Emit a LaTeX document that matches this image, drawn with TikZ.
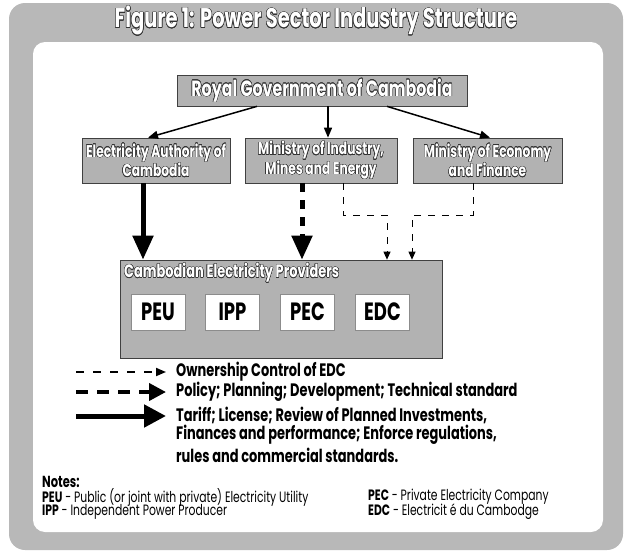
\documentclass[tikz,border=0pt]{standalone}
\usepackage{fontspec}
\setmainfont{Poppins}[FakeStretch=0.72]
\usepackage{contour}
\contourlength{0.45pt}
\contournumber{16}
\usetikzlibrary{arrows.meta}
\newcommand{\outl}[1]{{\color{white}\contour{black!80}{#1}}}
\begin{document}
\begin{tikzpicture}[x=1pt,y=-1pt,
  graybox/.style={draw=black!75, line width=0.7pt, fill=black!30, inner sep=1pt, align=center},
  midbox/.style={graybox, minimum height=45pt, font=\fontsize{17}{17}\selectfont\bfseries},
  whitebox/.style={draw=black!45, line width=0.5pt, fill=white, minimum width=54pt, minimum height=36pt, font=\bfseries\fontsize{25}{25}\selectfont},
  thinarrow/.style={line width=1.5pt, -{Triangle[length=10pt,width=8pt]}},
  bigsolid/.style={line width=5pt, -{Triangle[length=24pt,width=20pt]}},
  bigdashed/.style={line width=5pt, dash pattern=on 9pt off 8pt, -{Triangle[length=24pt,width=20pt]}},
  owndashed/.style={line width=1pt, dash pattern=on 7pt off 7pt, -{Triangle[length=8pt,width=7pt]}},
  legtext/.style={anchor=west, inner sep=0pt, font=\bfseries\fontsize{18}{18}\selectfont},
  notetext/.style={anchor=west, inner sep=0pt, font=\fontsize{15}{15}\selectfont}
]
\useasboundingbox (0,0) rectangle (625,552);
% frame
\fill[black!28, rounded corners=16pt] (9,3) rectangle (623,550);
\fill[white, rounded corners=12pt] (33,42) rectangle (603,532);
\node (title) at (316,21) {\fontsize{27}{27}\selectfont\bfseries\outl{Figure 1: Power Sector Industry Structure}};
% top box
\node[graybox, minimum width=290pt, minimum height=31pt] (rgc) at (322,90.5)
  {\fontsize{22}{22}\selectfont\bfseries\outl{Royal Government of Cambodia}};
% middle boxes
\node[midbox, minimum width=148pt] (eac) at (156,160.5)
  {\outl{Electricity Authority of}\\\outl{Cambodia}};
\node[midbox, minimum width=152pt] (mime) at (321,160.5)
  {\outl{Ministry of Industry,}\\\outl{Mines and Energy}};
\node[midbox, minimum width=149pt] (mef) at (487.5,160.5)
  {\outl{Ministry of Economy}\\\outl{and Finance}};
% providers
\node[graybox, minimum width=322pt, minimum height=98pt] (prov) at (281,309) {};
\node[anchor=west, inner sep=0pt, font=\fontsize{18}{18}\selectfont\bfseries] (provlbl) at (124,273) {\outl{Cambodian Electricity Providers}};
\node[whitebox] (peu) at (158,312) {PEU};
\node[whitebox] (ipp) at (232.5,312) {IPP};
\node[whitebox] (pec) at (307.5,312) {PEC};
\node[whitebox] (edc) at (382.5,312) {EDC};
% arrows from government
\draw[thinarrow] ([xshift=-65pt]rgc.south) -- ([xshift=-8pt]eac.north);
\draw[thinarrow] ([xshift=6pt]rgc.south) -- ([xshift=7pt]mime.north);
\draw[thinarrow] ([xshift=65pt]rgc.south) -- ([xshift=2.5pt]mef.north);
% regulator and ministry arrows
\draw[bigsolid] ([xshift=-13pt]eac.south) -- ([xshift=-13pt]eac.south |- prov.north);
\draw[bigdashed] ([xshift=-19pt]mime.south) -- ([xshift=-19pt]mime.south |- prov.north);
% ownership arrows
\coordinate (j1) at (387,215);
\coordinate (j2) at (412,215);
\draw[owndashed] ([xshift=22pt]mime.south) |- (j1) -- (j1 |- prov.north);
\draw[owndashed] ([xshift=-14.5pt]mef.south) |- (j2) -- (j2 |- prov.north);
% legend
\coordinate (l1a) at (76,372); \coordinate (l1b) at (166,372);
\coordinate (l2a) at (76,392); \coordinate (l2b) at (166,392);
\coordinate (l3a) at (76,416); \coordinate (l3b) at (166,416);
\draw[line width=1.8pt, dash pattern=on 8pt off 9pt, -{Triangle[length=10pt,width=8pt]}] (l1a) -- (l1b);
\draw[line width=4pt, dash pattern=on 12pt off 9pt, -{Triangle[length=17pt,width=17pt]}] (l2a) -- (l2b);
\draw[line width=5pt, -{Triangle[length=22pt,width=22pt]}] (l3a) -- (l3b);
\node[legtext] (lt1) at (176,372) {Ownership Control of EDC};
\node[legtext] (lt2) at (176,392) {Policy; Planning; Development; Technical standard};
\node[legtext] (lt3) at (176,415) {Tariff; License; Review of Planned Investments,};
\node[legtext] (lt4) at (176,435) {Finances and performance; Enforce regulations,};
\node[legtext] (lt5) at (176,455) {rules and commercial standards.};
% notes
\node[notetext, font=\bfseries\fontsize{16}{16}\selectfont] (notes) at (42,482) {Notes:};
\node[notetext] (n1) at (42,497) {\textbf{PEU} - Public (or joint with private) Electricity Utility};
\node[notetext] (n2) at (42,512) {\textbf{IPP} - Independent Power Producer};
\node[notetext] (n3) at (368,497) {\textbf{PEC} - Private Electricity Company};
\node[notetext] (n4) at (368,512) {\textbf{EDC} - Electricit é du Cambodge};
\end{tikzpicture}
\end{document}
